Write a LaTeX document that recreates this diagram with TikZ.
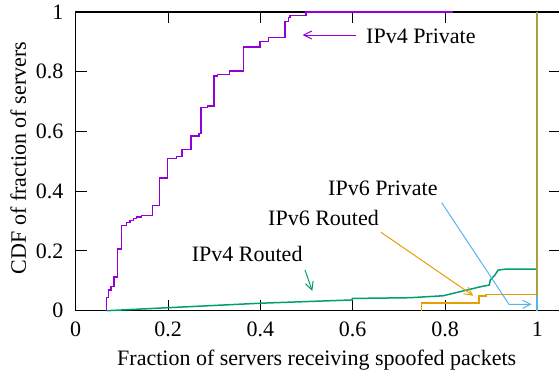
\documentclass[tikz,border=0pt]{standalone}
\usepackage{fontspec}
\setmainfont{Liberation Serif}
\usetikzlibrary{arrows.meta}
\definecolor{cpurple}{HTML}{9400D3}
\definecolor{cgreen}{HTML}{009E73}
\definecolor{cblue}{HTML}{56B4E9}
\definecolor{corange}{HTML}{E69F00}
\definecolor{colive}{RGB}{174,158,58}
\begin{document}
\begin{tikzpicture}[x=461.7pt,y=298.7pt,
  font=\fontsize{22}{26}\selectfont,
  frame/.style={line width=1.4pt,black},
  tickmark/.style={line width=1pt,black},
  series/.style={line width=1.5pt,line join=miter},
  lbl/.style={inner sep=0pt,anchor=base west},
  ticklbl/.style={inner sep=0pt},
  lblarrow/.style={line width=1pt,-{Straight Barb[length=8pt,width=8pt]}},
]
\useasboundingbox (-75.7pt,-62.3pt) rectangle (483.3pt,310.7pt);
\clip (-75.7pt,-62.3pt) rectangle (483.3pt,310.7pt);

% ticks
\foreach \x in {0.2,0.4,0.6,0.8,1} {
  \draw[tickmark] (\x,0) -- ++(0,11pt);
  \draw[tickmark] (\x,1) -- ++(0,-11pt);
}
\foreach \y in {0.2,0.4,0.6,0.8} {
  \draw[tickmark] (0,\y) -- ++(11pt,0);
  \draw[tickmark] (1.05,\y) -- ++(-11pt,0);
}
% frame (right border lies beyond the picture edge)
\draw[frame] (1.05,0) -- (0,0) -- (0,1) -- (1.05,1);

% tick labels
\foreach \x/\t [count=\i] in {0/0,0.2/0.2,0.4/0.4,0.6/0.6,0.8/0.8,1/1}
  \node[ticklbl,anchor=base] (xl\i) at (\x,-26pt) {\t};
\foreach \y/\t [count=\i] in {0/0,0.2/0.2,0.4/0.4,0.6/0.6,0.8/0.8,1/1}
  \node[ticklbl,anchor=east] (yl\i) at (-12pt,\y) {\t};

% axis labels
\node[inner sep=0pt,anchor=base] (xlabel) at (241pt,-54.3pt) {Fraction of servers receiving spoofed packets};
\node[inner sep=0pt,anchor=base,rotate=90] (ylabel) at (-49.7pt,152.7pt) {CDF of fraction of servers};

% IPv4 Private
\draw[series,cpurple] (0.0671,0) |- (0.0715,0.0449) |- (0.0765,0.0693) |- (0.0830,0.0803)
  |- (0.0910,0.1128) |- (0.0996,0.2066) |- (0.1105,0.2859) |- (0.1176,0.2960)
  |- (0.1248,0.3026) |- (0.1321,0.3080) |- (0.1430,0.3137) |- (0.1668,0.3194)
  |- (0.1811,0.3515) |- (0.1988,0.4443) |- (0.2188,0.5102) |- (0.2302,0.5156)
  |- (0.2497,0.5404) |- (0.2671,0.5849) |- (0.2714,0.5939) |- (0.2859,0.6796)
  |- (0.2995,0.6853) |- (0.3076,0.7858) |- (0.3327,0.7914) |- (0.3630,0.8025)
  |- (0.3992,0.8828) |- (0.4172,0.9019) |- (0.4533,0.9153) |- (0.4605,0.9689)
  |- (0.4642,0.9823) |- (0.4988,0.9890) |- (0.8172,1);

% IPv4 Routed
\draw[series,cgreen] (0.0671,0) -- (0.199,0.010) -- (0.399,0.025) -- (0.544,0.033)
  -- (0.599,0.036) -- (0.599,0.041) -- (0.724,0.0435) -- (0.796,0.050)
  -- (0.832,0.0636) -- (0.854,0.0716) -- (0.877,0.0803) -- (0.896,0.086)
  -- (0.898,0.103) -- (0.908,0.1195) -- (0.915,0.136) -- (0.93,0.139) -- (1,0.139);

% IPv6 Routed
\draw[series,corange] (0.749,0) |- (0.874,0.025) |- (0.889,0.049) |- (1,0.054);

% vertical at x = 1
\draw[series,cblue,line width=2pt] (1,0) -- (1,0.054);
\draw[series,colive,line width=2pt] (1,0.054) -- (1,1);

% labels
\node[lbl] (lp4) at (290.3pt,267.7pt) {IPv4 Private};
\node[lbl] (lp6) at (252.3pt,115.7pt) {IPv6 Private};
\node[lbl] (lr6) at (192.3pt,85.7pt) {IPv6 Routed};
\node[lbl] (lr4) at (116pt,49pt) {IPv4 Routed};

% label arrows
\coordinate (a1s) at (280.3pt,275.7pt);
\coordinate (a1e) at (227.0pt,275.7pt);
\coordinate (a2s) at (229.3pt,40.7pt);
\coordinate (a2e) at (236.6pt,19.7pt);
\coordinate (a3s) at (305.3pt,78.4pt);
\coordinate (a3e) at (397.6pt,15pt);
\coordinate (a4s) at (366pt,108pt);
\coordinate (a4m) at (433.3pt,6.4pt);
\coordinate (a4e) at (456pt,6.4pt);
\draw[lblarrow,cpurple] (a1s) -- (a1e);
\draw[lblarrow,cgreen] (a2s) -- (a2e);
\draw[lblarrow,corange] (a3s) -- (a3e);
\draw[lblarrow,cblue] (a4s) -- (a4m) -- (a4e);
\end{tikzpicture}
\end{document}
